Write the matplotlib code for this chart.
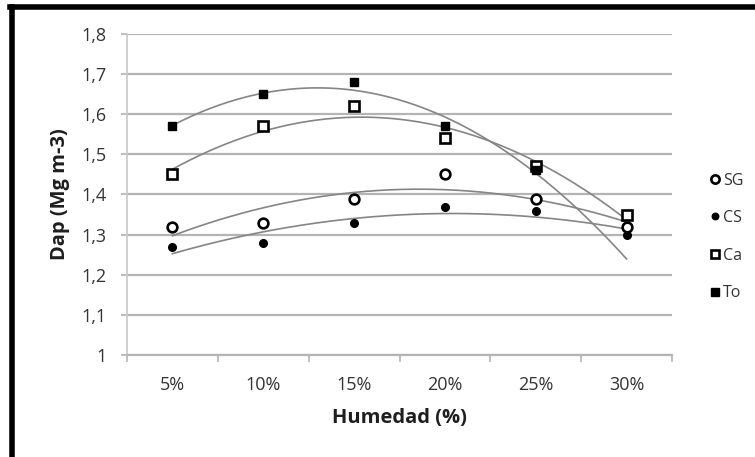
import matplotlib
matplotlib.use("Agg")
import matplotlib.pyplot as plt
from matplotlib.lines import Line2D
import numpy as np

# ---------------------------------------------------------------------------
# Data: bulk density (Dap) versus soil moisture
# ---------------------------------------------------------------------------
humedad = ["5%", "10%", "15%", "20%", "25%", "30%"]

sg = [1.32, 1.33, 1.39, 1.45, 1.39, 1.32]
cs = [1.27, 1.28, 1.33, 1.37, 1.36, 1.30]
ca = [1.45, 1.57, 1.62, 1.54, 1.47, 1.35]
to = [1.57, 1.65, 1.68, 1.57, 1.46, 1.24]

# the last To point carries no marker, only its trend is shown
to_markers = 5

plt.rcParams["font.family"] = ["Open Sans", "DejaVu Sans"]

TREND = "#858585"
GRID = "#b4b4b4"

fig = plt.figure(figsize=(7.55, 4.57), dpi=100)
ax = fig.add_axes([0.1682, 0.2232, 0.7219, 0.7024])

x = np.arange(1, len(humedad) + 1)
xs = np.linspace(1, len(humedad), 200)

series = [
    ("SG", sg, dict(marker="o", mfc="white", mec="black", ms=7, mew=1.9), None),
    ("CS", cs, dict(marker="o", mfc="black", mec="black", ms=5.5, mew=1), None),
    ("Ca", ca, dict(marker="s", mfc="white", mec="black", ms=7, mew=1.9), None),
    ("To", to, dict(marker="s", mfc="black", mec="black", ms=6, mew=1), to_markers),
]

# second order trend lines first so the markers sit on top
for name, vals, style, nmark in series:
    coef = np.polyfit(x, vals, 2)
    ax.plot(xs, np.polyval(coef, xs), color=TREND, lw=1.2, zorder=2)

for name, vals, style, nmark in series:
    n = len(vals) if nmark is None else nmark
    ax.plot(x[:n], vals[:n], ls="none", zorder=3, **style)

ax.set_xlim(0.5, len(humedad) + 0.5)
ax.set_ylim(1.0, 1.8)
yt = np.arange(1.0, 1.81, 0.1)
ax.set_yticks(yt)
ax.set_yticklabels(["1" if abs(v - 1) < 1e-9 else f"{v:.1f}".replace(".", ",") for v in yt])
ax.set_xticks(x)
ax.set_xticklabels(humedad)
ax.set_xticks(np.arange(0.5, len(humedad) + 1), minor=True)

ax.grid(axis="y", color=GRID, lw=1.6, zorder=1)
ax.set_axisbelow(True)
for s in ("top", "right"):
    ax.spines[s].set_visible(False)
ax.spines["left"].set_color("#c8c8c8")
ax.spines["bottom"].set_color(GRID)
ax.spines["left"].set_linewidth(1.2)
ax.spines["bottom"].set_linewidth(1.6)

ax.tick_params(axis="y", length=4, width=1.2, color="#b4b4b4", pad=11,
               labelsize=13, labelcolor="#333333")
ax.tick_params(axis="x", which="major", length=0, pad=15,
               labelsize=13, labelcolor="#333333")
ax.tick_params(axis="x", which="minor", length=5, width=1.2, color="#b4b4b4")

ax.set_ylabel("Dap (Mg m-3)", fontsize=14.5, fontweight="bold", color="#1e1e1e")
ax.yaxis.set_label_coords(-0.105, 0.5)
ax.set_xlabel("Humedad (%)", fontsize=14.5, fontweight="bold", color="#1e1e1e")
ax.xaxis.set_label_coords(0.5, -0.165)

handles = [Line2D([], [], ls="none", **style) for _, _, style, _ in series]
for h in handles:
    h.set_markersize(h.get_markersize() * 0.85)
leg = fig.legend(handles, [s[0] for s in series], loc="upper left",
                 bbox_to_anchor=(0.93, 0.64), frameon=False, fontsize=11.5,
                 handlelength=0.6, handletextpad=0.2, labelspacing=1.35,
                 borderpad=0)
for t in leg.get_texts():
    t.set_color("#333333")

# thick black frame along the top and left edges
fig.add_artist(Line2D([0.0165, 0.0165], [0, 0.985], transform=fig.transFigure,
                      color="black", lw=4))
fig.add_artist(Line2D([0.0135, 1.0], [0.985, 0.985], transform=fig.transFigure,
                      color="black", lw=4))

fig.savefig("out.png", dpi=100, facecolor="white")
